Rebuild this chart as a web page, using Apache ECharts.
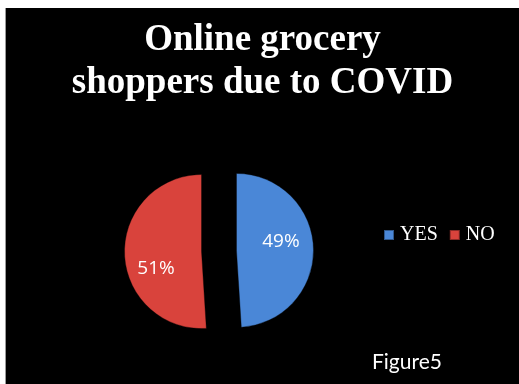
<!DOCTYPE html>
<html>
<head>
<meta charset="utf-8">
<script src="https://cdn.jsdelivr.net/npm/echarts@6/dist/echarts.min.js"></script>
<style>
  html, body { margin: 0; padding: 0; background: #ffffff; }
  #frame { position: relative; width: 519px; height: 384px; background: #ffffff; overflow: hidden; }
  #chart { position: absolute; left: 5px; top: 8px; width: 514px; height: 376px; border-left: 1px solid #9a9a9a; box-sizing: border-box; }
</style>
</head>
<body>
<div id="frame"><div id="chart"></div></div>
<script>
// Survey answers: did COVID turn respondents into online grocery shoppers?
const categories = ['YES', 'NO'];
const shares = [49, 51];
const sliceColors = ['#4a87d7', '#d9433c'];
const titleLines = ['Online grocery', 'shoppers due to COVID'];
const footnote = 'Figure5';

const chart = echarts.init(document.getElementById('chart'));
chart.setOption({
  backgroundColor: '#000000',
  animation: false,
  color: sliceColors,
  title: {
    text: titleLines.join('\n'),
    left: 'center',
    top: 6,
    textStyle: {
      color: '#ffffff',
      fontFamily: 'Liberation Serif',
      fontWeight: 'bold',
      fontSize: 37,
      lineHeight: 43
    }
  },
  legend: {
    data: categories,
    left: 372,
    top: 212,
    icon: 'rect',
    itemWidth: 10,
    itemHeight: 10,
    itemGap: 11,
    textStyle: { color: '#ffffff', fontFamily: 'Liberation Serif', fontSize: 20, padding: [0, 0, 0, 1] },
    selectedMode: false
  },
  series: [{
    type: 'pie',
    center: [213, 243],
    radius: [0, 77],
    startAngle: 90,
    clockwise: true,
    selectedMode: 'multiple',
    selectedOffset: 17.5,
    silent: true,
    itemStyle: { borderColor: 'rgba(0,0,0,0.35)', borderWidth: 1 },
    label: {
      show: true,
      position: 'inside',
      formatter: '{c}%',
      color: '#ffffff',
      fontFamily: 'Open Sans',
      fontSize: 19,
      fontWeight: 'normal'
    },
    labelLine: { show: false },
    labelLayout: function (p) {
      return p.dataIndex === 0 ? { dx: 3, dy: -8 } : { dx: -4, dy: 16 };
    },
    data: categories.map(function (name, i) {
      return { name: name, value: shares[i], selected: true };
    })
  }],
  graphic: [{
    type: 'text',
    left: 366,
    top: 344,
    style: {
      text: footnote,
      fill: '#ffffff',
      font: '21px Lato'
    }
  }]
});
</script>
</body>
</html>
